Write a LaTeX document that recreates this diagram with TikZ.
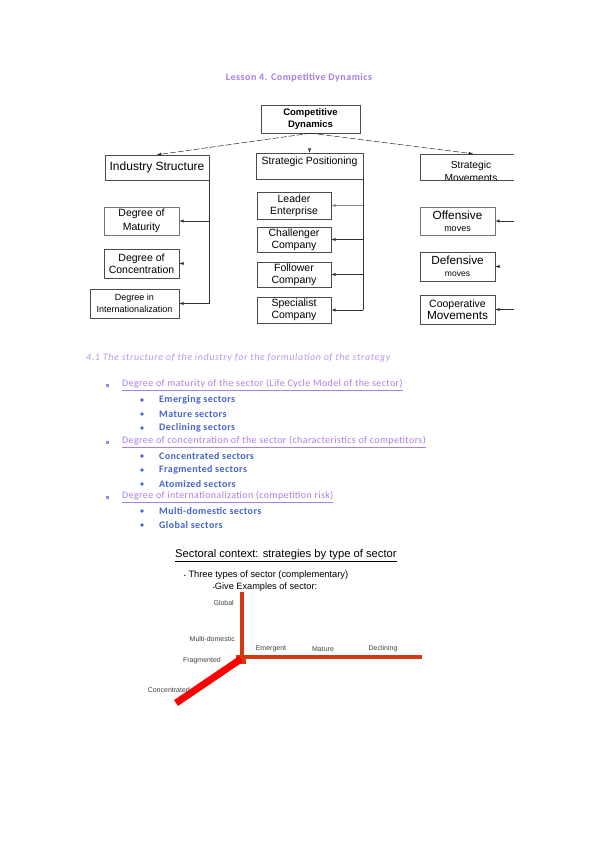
\documentclass[tikz,border=0pt]{standalone}
\usepackage{fontspec}
\setmainfont{Carlito}
\newfontfamily\arialfont{Liberation Sans}
\usetikzlibrary{arrows,arrows.meta,positioning,calc}

\definecolor{lav}{RGB}{166,127,232}
\definecolor{secblue}{RGB}{68,100,206}
\definecolor{axisred}{RGB}{212,58,16}

\begin{document}
\begin{tikzpicture}[x=1pt,y=-1pt,
    box/.style={draw=black!70, line width=0.5pt, inner sep=0pt, align=center,
        font=\arialfont\fontsize{10.5}{12}\selectfont},
    link/.style={-latex, line width=0.5pt, black!80},
    split/.style={-latex, line width=0.5pt, black!85, dash pattern=on 6pt off 2pt},
    sq/.style={fill=lav, inner sep=0pt, minimum size=3pt},
    dot/.style={circle, fill=secblue, inner sep=0pt, minimum size=3.6pt},
    item/.style={anchor=west, inner sep=0pt, text=lav,
        font=\fontsize{10}{12}\selectfont\addfontfeature{LetterSpace=4}},
    sub/.style={anchor=west, inner sep=0pt, text=secblue,
        font=\bfseries\fontsize{10}{12}\selectfont\addfontfeature{LetterSpace=4}},
    axlbl/.style={inner sep=0pt, text=black!75, font=\arialfont\fontsize{7}{8}\selectfont}]
    \useasboundingbox (0,0) rectangle (599,848);

    %%% Header
    \node[text=lav, font=\bfseries\fontsize{10}{12}\selectfont\addfontfeature{LetterSpace=5}] (title) at (299,78) {Lesson 4. Competitive Dynamics};

    %%% Tree
    \begin{scope}
        % Root
        \node[box, minimum width=99, minimum height=28, font=\arialfont\bfseries\fontsize{9.5}{12.5}\selectfont] (dyn) at (310.5,119) {Competitive\\Dynamics};

        % Branches
        \node[box, minimum width=104, minimum height=25, font=\arialfont\fontsize{12}{14}\selectfont] (ind) at (157,167.5) {Industry Structure};
        \node[box, minimum width=107, minimum height=26] (pos) at (309.5,166) {};
        \node[inner sep=0pt, font=\arialfont\fontsize{10.5}{12}\selectfont] (posText) at (309.5,162) {Strategic Positioning};
        \node[inner sep=0pt, minimum width=94, minimum height=26] (mov) at (467,167) {};
        \node[inner sep=0pt, align=center, font=\arialfont\fontsize{10.2}{13}\selectfont] (movText) at (471,171) {Strategic\\Movements};
        \draw[black!70, line width=0.5pt] (mov.north east) -- (mov.north west) -- (mov.south west) -- (mov.south east);

        % Dashed arcs from the root
        \draw[split] (dyn.south) -- (ind.north);
        \draw[split] (dyn.south) -- ([xshift=6]mov.north);
        \draw[link] ([yshift=4]pos.north) -- (pos.north);

        % Industry structure
        \node[box, draw=black!55, minimum width=75, minimum height=28, font=\arialfont\fontsize{10.5}{14}\selectfont] (mat) at (141.5,221) {Degree of\\Maturity};
        \node[box, minimum width=75, minimum height=29] (con) at (141.5,263.5) {Degree of\\Concentration};
        \node[box, minimum width=89, minimum height=29, font=\arialfont\fontsize{9}{11.5}\selectfont] (intl) at (134.5,303.5) {Degree in\\Internationalization};

        \draw[black!80, line width=0.5pt] (ind.south east) -- (ind.south east |- intl.east);
        \draw[link] (ind.south east |- mat.east) -- (mat.east);
        \draw[link] ([xshift=4]con.east) -- (con.east);
        \draw[link] (ind.south east |- intl.east) -- (intl.east);

        % Strategic positioning
        \node[box, minimum width=74, minimum height=27] (leader) at (294,205.5) {Leader\\Enterprise};
        \node[box, minimum width=74, minimum height=25] (chal) at (294,239.5) {Challenger\\Company};
        \node[box, minimum width=74, minimum height=25] (foll) at (294,274.5) {Follower\\Company};
        \node[box, minimum width=74, minimum height=26] (spec) at (294,310) {Specialist\\Company};

        \draw[black!80, line width=0.5pt] (pos.south east) -- (pos.south east |- spec.east);
        \draw[link, black!45] (pos.south east |- leader.east) -- (leader.east);
        \draw[link] (pos.south east |- chal.east) -- (chal.east);
        \draw[link] (pos.south east |- foll.east) -- (foll.east);
        \draw[link] (pos.south east |- spec.east) -- (spec.east);

        % Strategic movements
        \node[box, draw=black!55, minimum width=75, minimum height=28] (off) at (457.5,221) {{\fontsize{11.8}{14}\selectfont Offensive}\\{\fontsize{9}{12}\selectfont moves}};
        \node[box, minimum width=75, minimum height=29] (def) at (457.5,266.5) {{\fontsize{11.8}{14}\selectfont Defensive}\\{\fontsize{8.5}{12}\selectfont moves}};
        \node[box, minimum width=75, minimum height=29] (coop) at (457.5,309.5) {{\fontsize{10.5}{12}\selectfont Cooperative}\\{\fontsize{11.8}{13}\selectfont Movements}};

        \coordinate (movEdge) at (514,0);
        \draw[link] (movEdge |- off.east) -- (off.east);
        \draw[link] ([xshift=4]def.east) -- (def.east);
        \draw[link] (movEdge |- coop.east) -- (coop.east);
    \end{scope}

    %%% Text
    \node[anchor=west, inner sep=0pt, text=lav!80, font=\itshape\fontsize{10}{12}\selectfont\addfontfeature{LetterSpace=6}] (sec) at (86,358) {4.1 The structure of the industry for the formulation of the strategy};

    % Maturity
    \node[sq] (sq1) at (107,385) {};
    \node[item] (itm1) at (122,385) {\underline{Degree of maturity of the sector (Life Cycle Model of the sector)}};
    \node[dot] (dt1) at (142,400) {};
    \node[sub] (emerg) at (159,400) {Emerging sectors};
    \node[dot] (dt2) at (142,414) {};
    \node[sub] (mature) at (159,414) {Mature sectors};
    \node[dot] (dt3) at (142,428) {};
    \node[sub] (declin) at (159,428) {Declining sectors};

    % Concentration
    \node[sq] (sq2) at (107,442) {};
    \node[item] (itm2) at (122,442) {\underline{Degree of concentration of the sector (characteristics of competitors)}};
    \node[dot] (dt4) at (142,456) {};
    \node[sub] (concen) at (159,456) {Concentrated sectors};
    \node[dot] (dt5) at (142,470) {};
    \node[sub] (fragm) at (159,470) {Fragmented sectors};
    \node[dot] (dt6) at (142,484) {};
    \node[sub] (atom) at (159,484) {Atomized sectors};

    % Internationalization
    \node[sq] (sq3) at (107,497) {};
    \node[item] (itm3) at (122,497) {\underline{Degree of internationalization (competition risk)}};
    \node[dot] (dt7) at (142,511) {};
    \node[sub] (multi) at (159,511) {Multi-domestic sectors};
    \node[dot] (dt8) at (142,525) {};
    \node[sub] (glob) at (159,525) {Global sectors};

    %%% Sector chart
    \node[anchor=west, inner sep=0pt, font=\arialfont\fontsize{11.2}{13}\selectfont] (ctx) at (175,556) {\underline{Sectoral context: strategies by type of sector}};
    \node[anchor=west, inner sep=0pt, font=\arialfont\fontsize{9.3}{11}\selectfont] (three) at (184,575) {{\tiny\textbullet}\ Three types of sector (complementary)};
    \node[anchor=west, inner sep=0pt, font=\arialfont\fontsize{9.2}{11}\selectfont] (give) at (213,587) {{\tiny\textbullet}Give Examples of sector:};

    % Axes
    \coordinate (origin) at (241,659);
    \coordinate (yTop) at (242,592);
    \coordinate (xEnd) at (422,657);
    \coordinate (zEnd) at (176,703);
    \draw[axisred, line width=4pt] (yTop) -- (yTop |- origin);
    \draw[axisred, line width=4pt] (origin |- xEnd) -- (xEnd);
    \fill[axisred] (236,655) rectangle (246,664);
    \draw[red, line width=7pt] (origin) -- (zEnd);

    % Axis labels
    \node[axlbl, anchor=east] (lGlob) at (234,603) {Global};
    \node[axlbl, anchor=east] (lMulti) at (235,639) {Multi-domestic};
    \node[axlbl, anchor=east] (lFrag) at (221,661) {Fragmented};
    \node[axlbl, anchor=east] (lConc) at (190,690) {Concentrated};
    \node[axlbl] (lEmer) at (271,649) {Emergent};
    \node[axlbl] (lMat) at (323,649) {Mature};
    \node[axlbl] (lDecl) at (383,649) {Declining};
\end{tikzpicture}
\end{document}
